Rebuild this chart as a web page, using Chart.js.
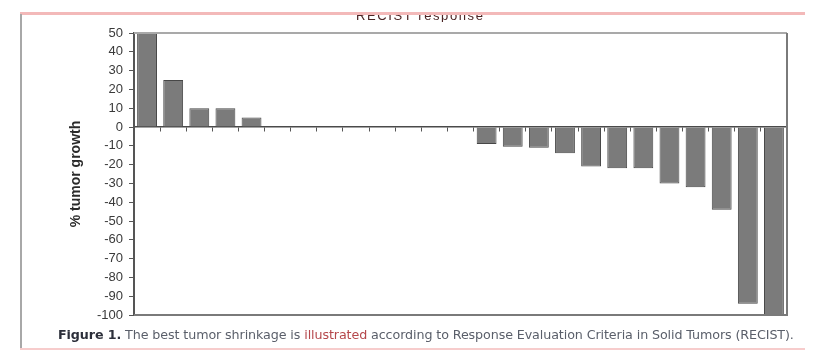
<!DOCTYPE html>
<html lang="en">
<head>
    <meta charset="UTF-8">
    <title>RECIST response</title>
    <script src="https://cdn.jsdelivr.net/npm/chart.js"></script>
    <style>
        body { margin: 0; background: #fff; width: 813px; height: 351px; overflow: hidden; position: relative; font-family: 'Liberation Sans', Arial, sans-serif; }
        #wrap { position: absolute; left: 0; top: 0; width: 813px; height: 351px; }
        .line { position: absolute; z-index: 2; }
        #topLine { left: 20px; top: 12px; width: 785px; height: 3px; background: #f3b9b9; }
        #leftLine { left: 20px; top: 14px; width: 2px; height: 336px; background: #a8a8a8; }
        #bottomLine { left: 20px; top: 348px; width: 785px; height: 2px; background: #f7cccc; }
        /* only the lower part of the title shows below the pink rule */
        #titleBox { position: absolute; left: 356px; top: 14px; width: 140px; height: 8px; overflow: hidden; z-index: 1; }
        #title { position: absolute; left: 0; top: -6px; font-size: 13px; color: #4a2424; letter-spacing: 1.6px; white-space: nowrap; }
        #caption { position: absolute; left: 58px; top: 327px; font-family: 'DejaVu Sans', Verdana, sans-serif; font-size: 12.7px; color: #5a5f6a; z-index: 1; white-space: nowrap; letter-spacing: -0.1px; }
        #caption b { color: #2c2f3a; }
        #caption .hl { color: #b5484c; }
    </style>
</head>
<body>
    <div class="line" id="topLine"></div>
    <div class="line" id="leftLine"></div>
    <div class="line" id="bottomLine"></div>
    <div id="titleBox"><div id="title">RECIST response</div></div>
    <div id="wrap"><canvas id="recistChart"></canvas></div>
    <div id="caption"><b>Figure 1.</b> The best tumor shrinkage is <span class="hl">illustrated</span> according to Response Evaluation Criteria in Solid Tumors (RECIST).</div>
    <script>
        // one bar per patient, sorted from growth to shrinkage
        const patients = ['P1', 'P2', 'P3', 'P4', 'P5', 'P6', 'P7', 'P8', 'P9', 'P10', 'P11', 'P12', 'P13',
                          'P14', 'P15', 'P16', 'P17', 'P18', 'P19', 'P20', 'P21', 'P22', 'P23', 'P24', 'P25'];
        const tumorGrowth = [52, 25, 10, 10, 5, 0, 0, 0, 0, 0, 0, 0, 0,
                             -9, -10.5, -11, -14, -21, -22, -22, -30, -32, -44, -94, -100];
        const yTicks = [50, 40, 30, 20, 10, 0, -10, -20, -30, -40, -50, -60, -70, -80, -90, -100];

        // box round the plot area (top, right, bottom)
        const frame = {
            id: 'frame',
            afterDatasetsDraw(chart) {
                const a = chart.chartArea;
                const ctx = chart.ctx;
                ctx.save();
                ctx.lineWidth = 2;
                ctx.strokeStyle = '#a9a9a9';
                ctx.beginPath();
                ctx.moveTo(a.left, a.top);
                ctx.lineTo(a.right, a.top);
                ctx.stroke();
                ctx.strokeStyle = '#7a7a7a';
                ctx.beginPath();
                ctx.moveTo(a.right, a.top);
                ctx.lineTo(a.right, a.bottom);
                ctx.lineTo(a.left, a.bottom);
                ctx.stroke();
                ctx.restore();
            }
        };

        const ctx = document.getElementById('recistChart').getContext('2d');
        const chart = new Chart(ctx, {
            type: 'bar',
            data: {
                labels: patients,
                datasets: [{
                    label: '% tumor growth',
                    data: tumorGrowth,
                    backgroundColor: '#7b7b7b',
                    borderColor: '#474747',
                    borderWidth: 1,
                    barPercentage: 0.76,
                    categoryPercentage: 1,
                    clip: 0
                }]
            },
            options: {
                responsive: true,
                maintainAspectRatio: false,
                animation: false,
                layout: { padding: { left: 60, right: 26, top: 33, bottom: 36 } },
                plugins: {
                    legend: { display: false },
                    tooltip: { enabled: false }
                },
                scales: {
                    x: {
                        position: { y: 0 },
                        ticks: { display: false },
                        grid: { drawOnChartArea: false, drawTicks: true, tickLength: 4, color: '#555', offset: true },
                        border: { display: true, color: '#4a4a4a', width: 1.5 }
                    },
                    y: {
                        min: -100,
                        max: 50,
                        afterBuildTicks(scale) {
                            scale.ticks = yTicks.map(v => ({ value: v }));
                        },
                        afterFit(scale) { scale.width = 74; },
                        ticks: {
                            color: '#3a3a3a',
                            padding: 6,
                            font: { family: 'Liberation Sans', size: 13 }
                        },
                        grid: { drawOnChartArea: false, drawTicks: true, tickLength: 5, color: '#555' },
                        border: { display: true, color: '#555', width: 2 },
                        title: {
                            display: true,
                            text: '% tumor growth',
                            color: '#2a2a2a',
                            padding: { top: 8, bottom: 0 },
                            font: { family: 'Liberation Sans', size: 14, weight: 'bold' }
                        }
                    }
                }
            },
            plugins: [frame]
        });
    </script>
</body>
</html>
